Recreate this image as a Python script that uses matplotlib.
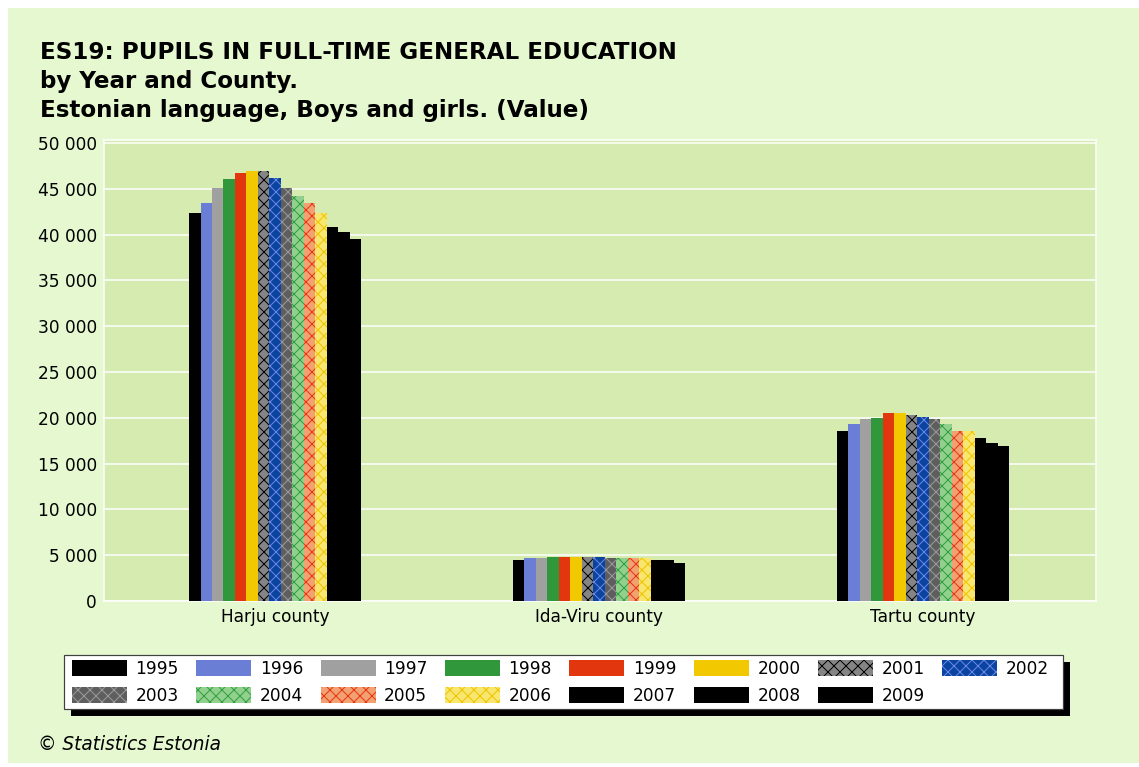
import matplotlib
matplotlib.use("Agg")
import matplotlib.pyplot as plt
from matplotlib.patches import Rectangle
from matplotlib.ticker import FuncFormatter, MultipleLocator

W, H = 1139, 767
DPI = 72

counties = ["Harju county", "Ida-Viru county", "Tartu county"]
years = ["1995", "1996", "1997", "1998", "1999", "2000", "2001", "2002",
         "2003", "2004", "2005", "2006", "2007", "2008", "2009"]
harju = [42400, 43400, 45050, 46100, 46750, 46950, 47000, 46150,
         45050, 44250, 43400, 42400, 40850, 40250, 39500]
ida_viru = [4480, 4660, 4660, 4840, 4840, 4840, 4840, 4840,
            4660, 4660, 4660, 4660, 4480, 4450, 4200]
tartu = [18600, 19300, 19850, 20000, 20500, 20500, 20300, 20050,
         19850, 19300, 18600, 18600, 17750, 17200, 16950]

face_colors = ["#000000", "#6a7ed6", "#a0a0a0", "#30983a", "#e2360f", "#f2c800",
               "#858585", "#0a44a0", "#5e5e5e", "#92d08e", "#f2a272", "#f8e66e",
               "#000000", "#000000", "#000000"]
hatch_colors = [None, None, None, None, None, None,
                "#000000", "#6a88e8", "#9a9a9a", "#2fa040", "#e83512", "#f0c400",
                None, None, None]
hatches = [None] * 6 + ["xx"] * 6 + [None] * 3

plt.rcParams["font.family"] = ["DejaVu Sans"]
plt.rcParams["hatch.linewidth"] = 1.0

def fx(px):
    return px / W

def fy(py):
    return 1 - py / H

fig = plt.figure(figsize=(W / DPI, H / DPI), dpi=DPI, facecolor="white")
fig.patches.append(Rectangle((fx(8), fy(763)), fx(1139) - fx(8), fy(8) - fy(763),
                             transform=fig.transFigure, facecolor="#e5f8d0",
                             edgecolor="none", zorder=-10))

ax = fig.add_axes([fx(104), fy(601), fx(1096) - fx(104), fy(140) - fy(601)])
ax.set_zorder(1)
ax.set_facecolor("#d5ebb0")

n = len(years)
group_w = 0.531
w = group_w / n
xs = range(len(counties))
for i, yr in enumerate(years):
    vals = [harju[i], ida_viru[i], tartu[i]]
    pos = [c + (i - (n - 1) / 2) * w for c in xs]
    if hatches[i]:
        ax.bar(pos, vals, width=w, facecolor=face_colors[i], edgecolor=hatch_colors[i],
               hatch=hatches[i], linewidth=0, label=yr, zorder=3)
    else:
        ax.bar(pos, vals, width=w, color=face_colors[i], linewidth=0, label=yr, zorder=3)

ax.set_xlim(-0.528, 2.534)
ax.set_ylim(0, 50330)
ax.yaxis.set_major_locator(MultipleLocator(5000))
ax.yaxis.set_major_formatter(FuncFormatter(lambda v, p: f"{int(round(v)):,}".replace(",", " ")))
ax.set_xticks(list(xs))
ax.set_xticklabels(counties)
ax.tick_params(axis="both", length=0, labelsize=17, colors="#000000")
ax.tick_params(axis="y", pad=7)
ax.tick_params(axis="x", pad=7)
ax.grid(axis="y", color="white", linewidth=1.5)
ax.set_axisbelow(True)
for s in ax.spines.values():
    s.set_color("white")
    s.set_linewidth(1.5)

title_fs = 23
fig.text(fx(40), fy(59), "ES19: PUPILS IN FULL-TIME GENERAL EDUCATION",
         fontsize=title_fs, fontweight="bold", va="baseline", ha="left")
fig.text(fx(40), fy(88), "by Year and County.",
         fontsize=title_fs, fontweight="bold", va="baseline", ha="left")
fig.text(fx(40), fy(117), "Estonian language, Boys and girls. (Value)",
         fontsize=title_fs, fontweight="bold", va="baseline", ha="left")
fig.text(fx(38), fy(750), "\u00a9 Statistics Estonia", fontsize=18.5,
         style="italic", va="baseline", ha="left")

# legend box with shadow
lx0, ly0, lx1, ly1 = 64, 655, 1063, 709
fig.patches.append(Rectangle((fx(lx0 + 7), fy(ly1 + 7)), fx(lx1) - fx(lx0), fy(ly0) - fy(ly1),
                             transform=fig.transFigure, facecolor="black",
                             edgecolor="none", zorder=3))
fig.patches.append(Rectangle((fx(lx0), fy(ly1)), fx(lx1) - fx(lx0), fy(ly0) - fy(ly1),
                             transform=fig.transFigure, facecolor="white",
                             edgecolor="#404040", linewidth=1.2, zorder=4))

handles, labels = ax.get_legend_handles_labels()
ncol = 8
order = []
for c in range(ncol):
    for r in range(2):
        k = r * ncol + c
        if k < n:
            order.append(k)
leg = fig.legend([handles[k] for k in order], [labels[k] for k in order],
                 ncol=ncol, loc="upper left", bbox_to_anchor=(fx(72), fy(659.5)),
                 bbox_transform=fig.transFigure, borderaxespad=0,
                 fontsize=17, handlelength=3.24, handleheight=1.05,
                 handletextpad=0.5, columnspacing=1.02, labelspacing=0.55,
                 borderpad=0, frameon=False)
leg.set_zorder(5)

fig.savefig("out.png", dpi=DPI, facecolor="white")
